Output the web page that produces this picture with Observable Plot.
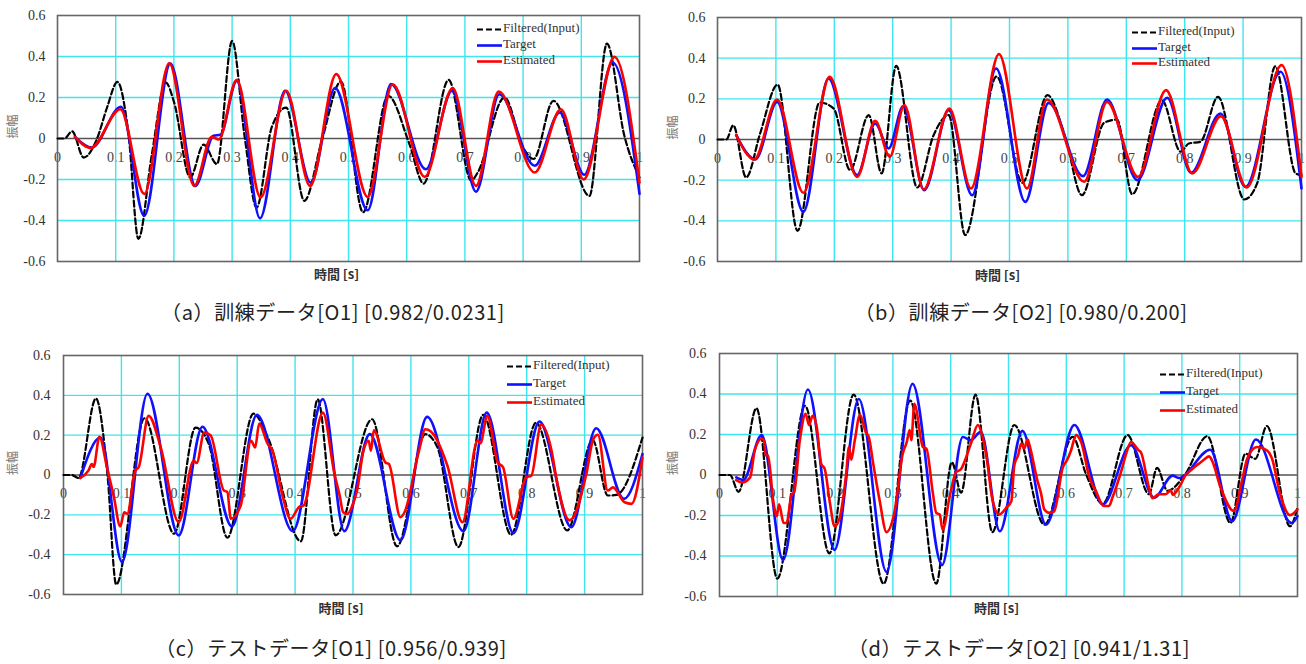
<!DOCTYPE html>
<html><head><meta charset="utf-8">
<script src="https://cdn.jsdelivr.net/npm/d3@7"></script>
<script src="https://cdn.jsdelivr.net/npm/@observablehq/plot@0.6"></script>
<style>
body{margin:0;background:#fff;width:1306px;height:664px;position:relative;overflow:hidden}
.pan{position:absolute}
.cap{position:absolute;transform:translate(-50%,-50%);white-space:pre;font-family:"Noto Sans CJK JP",sans-serif;font-size:20px;letter-spacing:0.6px;color:#222}
.leg{position:absolute;font-family:"Liberation Serif",serif;font-size:13px;color:#333;white-space:nowrap}
.leg svg{position:absolute;left:0;top:-2px}
.leg span{position:absolute;left:26px;top:-9px}
</style></head><body>
<script>
// ---- axis ticks ----
const xTicks = [0,0.1,0.2,0.3,0.4,0.5,0.6,0.7,0.8,0.9,1];
const xTickLabels = ["0","0.1","0.2","0.3","0.4","0.5","0.6","0.7","0.8","0.9","1"];
const yTicks = [-0.6,-0.4,-0.2,0,0.2,0.4,0.6];
const yTickLabels = ["-0.6","-0.4","-0.2","0","0.2","0.4","0.6"];
const seriesNames = ["Filtered(Input)","Target","Estimated"];
const captions = ["（a）訓練データ[O1] [0.982/0.0231]","（b）訓練データ[O2] [0.980/0.200]","（c）テストデータ[O1] [0.956/0.939]","（d）テストデータ[O2] [0.941/1.31]"];

// ---- (a) training O1 ----
const aFiltered = [[0,0],[0.012,0],[0.025,0.035],[0.045,-0.093],[0.068,0],[0.085,0.15],[0.103,0.276],[0.122,0.02],[0.139,-0.49],[0.162,-0.08],[0.186,0.273],[0.2,0.18],[0.228,-0.19],[0.251,-0.03],[0.274,-0.125],[0.3,0.476],[0.322,0],[0.342,-0.337],[0.368,0.054],[0.393,0.151],[0.424,-0.304],[0.455,0],[0.487,0.278],[0.525,-0.36],[0.568,0.208],[0.605,-0.03],[0.629,-0.22],[0.672,0.286],[0.711,-0.206],[0.722,-0.166],[0.768,0.2],[0.8,-0.044],[0.818,-0.1],[0.852,0.184],[0.914,-0.28],[0.944,0.463],[0.974,0.013],[1.0,-0.19]];
const aTarget = [[0.03,0.008],[0.059,-0.044],[0.109,0.155],[0.149,-0.377],[0.194,0.366],[0.237,-0.231],[0.268,0.013],[0.28,0.018],[0.308,0.281],[0.348,-0.389],[0.391,0.233],[0.435,-0.215],[0.477,0.246],[0.533,-0.35],[0.573,0.265],[0.633,-0.15],[0.678,0.233],[0.719,-0.259],[0.759,0.216],[0.82,-0.133],[0.863,0.127],[0.905,-0.177],[0.954,0.371],[1.0,-0.27]];
const aEstimated = [[0.03,0.008],[0.057,-0.047],[0.108,0.143],[0.149,-0.27],[0.192,0.367],[0.235,-0.231],[0.265,0.008],[0.277,-0.005],[0.308,0.286],[0.349,-0.288],[0.393,0.233],[0.434,-0.231],[0.479,0.314],[0.533,-0.285],[0.576,0.265],[0.631,-0.187],[0.679,0.246],[0.719,-0.231],[0.758,0.229],[0.82,-0.166],[0.865,0.143],[0.904,-0.2],[0.957,0.398],[1.0,-0.215]];

// ---- (b) training O2 ----
const bFiltered = [[0,0],[0.015,0],[0.027,0.07],[0.049,-0.187],[0.073,0.03],[0.103,0.27],[0.137,-0.449],[0.175,0.182],[0.199,0.152],[0.227,-0.151],[0.259,0.12],[0.281,-0.167],[0.306,0.362],[0.342,-0.236],[0.37,0.021],[0.396,0.12],[0.424,-0.47],[0.478,0.31],[0.522,-0.213],[0.565,0.218],[0.596,0.005],[0.624,-0.274],[0.662,0.082],[0.684,0.098],[0.71,-0.269],[0.761,0.193],[0.793,-0.06],[0.807,-0.02],[0.827,-0.011],[0.857,0.21],[0.902,-0.295],[0.924,-0.216],[0.955,0.36],[0.99,-0.167],[1.0,-0.175]];
const bTarget = [[0.032,0.021],[0.065,-0.098],[0.102,0.185],[0.147,-0.356],[0.19,0.3],[0.239,-0.175],[0.27,0.079],[0.293,-0.044],[0.318,0.164],[0.354,-0.249],[0.396,0.144],[0.436,-0.274],[0.477,0.349],[0.527,-0.307],[0.567,0.18],[0.626,-0.18],[0.667,0.197],[0.719,-0.2],[0.77,0.205],[0.811,-0.164],[0.861,0.128],[0.904,-0.233],[0.964,0.333],[1.0,-0.241]];
const bEstimated = [[0.032,0.021],[0.063,-0.098],[0.102,0.197],[0.147,-0.262],[0.192,0.308],[0.239,-0.184],[0.27,0.092],[0.295,-0.085],[0.32,0.169],[0.353,-0.246],[0.397,0.152],[0.434,-0.241],[0.482,0.42],[0.53,-0.241],[0.564,0.197],[0.628,-0.208],[0.667,0.185],[0.72,-0.184],[0.768,0.243],[0.813,-0.167],[0.862,0.115],[0.906,-0.236],[0.966,0.366],[1.0,-0.184]];

// ---- (c) test O1 ----
const cFiltered = [[0,0],[0.014,0],[0.026,-0.015],[0.056,0.385],[0.076,0],[0.091,-0.55],[0.14,0.285],[0.191,-0.295],[0.228,0.238],[0.251,0.155],[0.283,-0.315],[0.328,0.308],[0.353,0.188],[0.41,-0.333],[0.439,0.38],[0.47,-0.303],[0.533,0.28],[0.576,-0.358],[0.625,0.205],[0.646,0.138],[0.682,-0.362],[0.725,0.302],[0.773,-0.3],[0.816,0.263],[0.87,-0.278],[0.914,0.175],[0.94,-0.103],[0.955,-0.1],[1.0,0.188]];
const cTarget = [[0.029,-0.015],[0.064,0.188],[0.101,-0.437],[0.145,0.408],[0.199,-0.303],[0.24,0.242],[0.291,-0.258],[0.334,0.302],[0.396,-0.282],[0.448,0.38],[0.485,-0.282],[0.529,0.205],[0.582,-0.328],[0.628,0.292],[0.691,-0.282],[0.731,0.313],[0.777,-0.292],[0.822,0.268],[0.877,-0.262],[0.92,0.235],[0.968,-0.12],[1.0,0.105]];
const cEstimated = [[0.029,-0.015],[0.043,0.022],[0.049,0.055],[0.052,0.04],[0.062,0.192],[0.075,0.038],[0.087,-0.11],[0.098,-0.258],[0.105,-0.187],[0.11,-0.195],[0.124,0.022],[0.13,0.04],[0.147,0.297],[0.168,0.138],[0.199,-0.237],[0.225,0.072],[0.23,0.06],[0.243,0.213],[0.254,0.2],[0.277,-0.078],[0.283,-0.085],[0.289,-0.22],[0.306,-0.153],[0.324,0.172],[0.331,0.138],[0.338,0.258],[0.352,0.16],[0.361,0.122],[0.379,-0.112],[0.392,-0.22],[0.408,-0.158],[0.414,-0.155],[0.448,0.313],[0.468,0.005],[0.477,-0.103],[0.483,-0.187],[0.49,-0.195],[0.501,-0.137],[0.507,-0.078],[0.518,0.122],[0.527,0.172],[0.531,0.122],[0.536,0.225],[0.556,0.063],[0.562,0.055],[0.582,-0.212],[0.589,-0.187],[0.614,0.122],[0.625,0.23],[0.634,0.22],[0.663,0.047],[0.689,-0.237],[0.715,0.172],[0.72,0.16],[0.732,0.297],[0.75,0.063],[0.759,0.04],[0.777,-0.22],[0.799,-0.012],[0.808,-0.003],[0.825,0.252],[0.843,0.12],[0.851,-0.012],[0.874,-0.228],[0.903,0.005],[0.915,0.18],[0.923,0.202],[0.94,-0.078],[0.949,-0.062],[0.969,-0.137],[0.981,-0.145],[1.0,0.088]];

// ---- (d) test O2 ----
const dFiltered = [[0,0],[0.018,0],[0.033,-0.083],[0.064,0.33],[0.1,-0.512],[0.148,0.342],[0.19,-0.387],[0.232,0.397],[0.284,-0.537],[0.33,0.368],[0.375,-0.537],[0.402,0.063],[0.418,-0.087],[0.443,0.397],[0.472,-0.282],[0.51,0.247],[0.562,-0.245],[0.611,0.188],[0.634,0.005],[0.663,-0.142],[0.706,0.197],[0.743,-0.095],[0.757,0.035],[0.775,-0.078],[0.806,0.005],[0.844,0.192],[0.884,-0.237],[0.91,0.105],[0.927,0.08],[0.947,0.242],[0.987,-0.253],[1.0,-0.16]];
const dTarget = [[0.029,-0.012],[0.041,-0.025],[0.073,0.197],[0.11,-0.42],[0.153,0.422],[0.199,-0.37],[0.241,0.375],[0.289,-0.478],[0.334,0.45],[0.385,-0.445],[0.421,0.188],[0.435,0.172],[0.452,0.213],[0.485,-0.278],[0.524,0.218],[0.565,-0.245],[0.614,0.247],[0.663,-0.145],[0.712,0.147],[0.752,-0.112],[0.784,-0.003],[0.795,-0.015],[0.849,0.125],[0.887,-0.228],[0.928,0.175],[0.99,-0.237],[1.0,-0.203]];
const dEstimated = [[0.029,-0.025],[0.039,-0.037],[0.053,-0.012],[0.061,0.122],[0.073,0.18],[0.077,0.17],[0.08,0.097],[0.084,0.095],[0.093,-0.128],[0.099,-0.203],[0.103,-0.145],[0.111,-0.237],[0.116,-0.237],[0.125,-0.095],[0.129,-0.087],[0.139,0.172],[0.149,0.302],[0.155,0.247],[0.161,0.292],[0.168,0.24],[0.176,0.055],[0.182,0.03],[0.191,-0.137],[0.199,-0.253],[0.207,-0.22],[0.219,0.0],[0.224,0.138],[0.228,0.075],[0.234,0.17],[0.243,0.297],[0.254,0.205],[0.258,0.19],[0.266,0.055],[0.277,-0.125],[0.289,-0.282],[0.303,-0.178],[0.317,0.105],[0.324,0.163],[0.329,0.222],[0.332,0.172],[0.337,0.352],[0.352,0.138],[0.358,0.13],[0.369,-0.087],[0.375,-0.187],[0.381,-0.195],[0.386,-0.27],[0.399,-0.095],[0.409,0.013],[0.418,0.03],[0.435,0.155],[0.447,0.247],[0.455,0.19],[0.463,0.07],[0.472,-0.12],[0.484,-0.195],[0.496,-0.162],[0.505,-0.128],[0.51,0.047],[0.517,0.1],[0.522,0.155],[0.527,0.13],[0.533,0.175],[0.537,0.14],[0.55,-0.028],[0.556,-0.087],[0.562,-0.17],[0.571,-0.187],[0.579,-0.18],[0.594,0.038],[0.601,0.072],[0.608,0.12],[0.617,0.197],[0.626,0.16],[0.64,-0.012],[0.651,-0.078],[0.665,-0.153],[0.674,-0.153],[0.68,-0.11],[0.697,0.038],[0.704,0.11],[0.712,0.163],[0.725,0.122],[0.729,0.113],[0.743,-0.062],[0.749,-0.115],[0.76,-0.095],[0.772,-0.095],[0.781,-0.075],[0.784,-0.098],[0.795,-0.062],[0.806,-0.003],[0.818,0.03],[0.829,0.055],[0.838,0.075],[0.847,0.092],[0.852,0.072],[0.867,-0.062],[0.89,-0.178],[0.904,-0.028],[0.913,0.08],[0.93,0.138],[0.947,0.122],[0.956,0.08],[0.97,-0.095],[0.987,-0.198],[1.0,-0.17]];

// ---- styles ----
const GRID = "#3fe6ee";
const COLORS = ["#000000","#1010ff","#ff0000"];
const SERIF = "'Liberation Serif','Times New Roman',serif";
const CJK = "'Noto Sans CJK JP',sans-serif";

function yLabel(d){ const i = yTicks.findIndex(t => Math.abs(t-d) < 1e-9); return i >= 0 ? yTickLabels[i] : ""; }

function makePanel(p) {
  const line = (data, i, extra) => Plot.line(data, Object.assign({x: d => d[0], y: d => d[1], stroke: COLORS[i], curve: "monotone-x"}, extra));
  const plot = Plot.plot({
    width: p.width, height: 290,
    marginLeft: p.ml, marginRight: p.mr, marginTop: p.mt, marginBottom: p.mb,
    x: {domain: [0, 1], axis: null},
    y: {domain: [-0.6, 0.6], axis: null},
    style: {background: "transparent", fontFamily: SERIF, overflow: "visible"},
    marks: [
      Plot.text(xTicks, {x: d => d, y: 0, text: (d, i) => xTickLabels[i], dy: 19, fontSize: 14, fill: "#444"}),
      Plot.gridX(xTicks.slice(1, -1), {stroke: GRID, strokeOpacity: 1, strokeWidth: 1.4}),
      Plot.gridY([-0.4, -0.2, 0.2, 0.4], {stroke: GRID, strokeOpacity: 1, strokeWidth: 1.4}),
      Plot.ruleY([0], {stroke: "#555", strokeWidth: 1.6}),
      Plot.frame({stroke: "#666", strokeWidth: 1.6}),
      line(p.series[0], 0, {strokeWidth: 2.2, strokeDasharray: "6,3"}),
      line(p.series[1], 1, {strokeWidth: 2.6}),
      line(p.series[2], 2, {strokeWidth: 2.6}),
      Plot.axisY(yTicks, {tickSize: 0, tickPadding: p.tp, tickFormat: yLabel, fontSize: 14, fill: "#333", label: null}),
      Plot.text(["振幅"], {frameAnchor: "left", dx: -p.ml + 13, rotate: -90, fontSize: 12, fill: "#777", fontFamily: CJK}),
      Plot.text(["時間 [s]"], {frameAnchor: "bottom", lineAnchor: "middle", dx: -12, dy: p.xl, fontSize: 13, fontWeight: "bold", fill: "#333", fontFamily: CJK})
    ]
  });
  const div = document.createElement("div");
  div.className = "pan";
  div.style.left = p.left + "px"; div.style.top = p.top + "px";
  div.appendChild(plot);
  document.body.appendChild(div);

  // legend
  const dashes = ["6,3", null, null];
  const widths = [2.2, 2.6, 2.6];
  seriesNames.forEach((name, i) => {
    const row = document.createElement("div");
    row.className = "leg";
    row.style.left = p.legX + "px";
    row.style.top = (p.legY + i * p.legDy) + "px";
    row.innerHTML = `<svg width="26" height="5"><line x1="0" x2="25" y1="2.5" y2="2.5" stroke="${COLORS[i]}" stroke-width="${widths[i]}" ${dashes[i] ? `stroke-dasharray="${dashes[i]}"` : ""}/></svg><span>${name}</span>`;
    document.body.appendChild(row);
  });

  const cap = document.createElement("div");
  cap.className = "cap";
  cap.textContent = p.caption;
  cap.style.left = p.capX + "px"; cap.style.top = p.capY + "px";
  document.body.appendChild(cap);
}

makePanel({left: 0, top: 0, width: 650, ml: 57, mr: 11, mt: 15, mb: 29, tp: 12, xl: 13,
  series: [aFiltered, aTarget, aEstimated], legX: 477, legY: 29, legDy: 16, caption: captions[0], capX: 333, capY: 311});
makePanel({left: 660, top: 0, width: 646, ml: 57, mr: 5, mt: 17, mb: 29, tp: 12, xl: 14,
  series: [bFiltered, bTarget, bEstimated], legX: 1132, legY: 32, legDy: 15.5, caption: captions[1], capX: 1021, capY: 311});
makePanel({left: 0, top: 340, width: 650, ml: 63, mr: 8, mt: 15, mb: 36, tp: 13, xl: 14,
  series: [cFiltered, cTarget, cEstimated], legX: 507, legY: 366, legDy: 18, caption: captions[2], capX: 331, capY: 647});
makePanel({left: 660, top: 340, width: 646, ml: 59, mr: 9, mt: 13, mb: 34, tp: 13, xl: 12,
  series: [dFiltered, dTarget, dEstimated], legX: 1160, legY: 374, legDy: 18, caption: captions[3], capX: 1019, capY: 647});
</script>
</body></html>
